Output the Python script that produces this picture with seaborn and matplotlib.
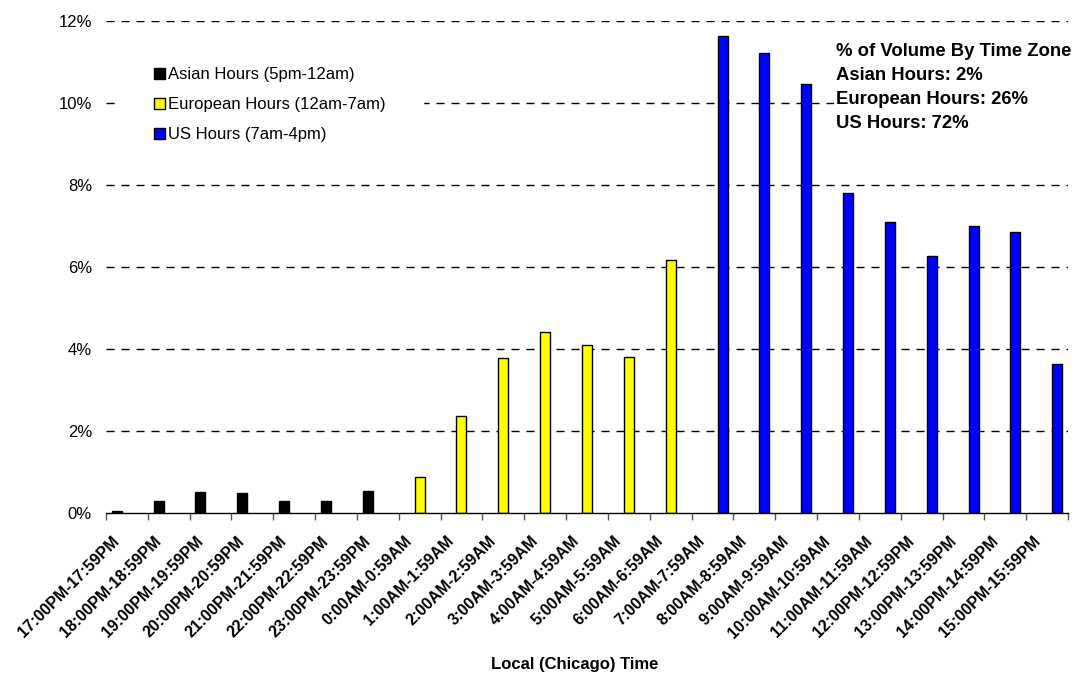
import matplotlib
matplotlib.use("Agg")
import matplotlib.pyplot as plt
import matplotlib.transforms as mtransforms
import seaborn as sns
import pandas as pd
import numpy as np

# Hourly share of trading volume, by local (Chicago) time
asian_hours = ["17:00PM-17:59PM", "18:00PM-18:59PM", "19:00PM-19:59PM", "20:00PM-20:59PM",
               "21:00PM-21:59PM", "22:00PM-22:59PM", "23:00PM-23:59PM"]
asian_pct = [0.06, 0.29, 0.52, 0.50, 0.29, 0.29, 0.54]

european_hours = ["0:00AM-0:59AM", "1:00AM-1:59AM", "2:00AM-2:59AM", "3:00AM-3:59AM",
                  "4:00AM-4:59AM", "5:00AM-5:59AM", "6:00AM-6:59AM"]
european_pct = [0.88, 2.38, 3.78, 4.41, 4.10, 3.80, 6.17]

us_hours = ["7:00AM-7:59AM", "8:00AM-8:59AM", "9:00AM-9:59AM", "10:00AM-10:59AM",
            "11:00AM-11:59AM", "12:00PM-12:59PM", "13:00PM-13:59PM", "14:00PM-14:59PM",
            "15:00PM-15:59PM"]
us_pct = [11.63, 11.21, 10.46, 7.80, 7.10, 6.26, 7.00, 6.85, 3.63]

zones = ["Asian Hours (5pm-12am)", "European Hours (12am-7am)", "US Hours (7am-4pm)"]
zone_colors = ["#000000", "#FFFF00", "#0000FF"]
summary_lines = ["% of Volume By Time Zone", "Asian Hours: 2%", "European Hours: 26%", "US Hours: 72%"]
y_ticks = [0, 2, 4, 6, 8, 10, 12]

hours = asian_hours + european_hours + us_hours
df = pd.DataFrame({
    "hour": hours,
    "zone": [zones[0]] * len(asian_hours) + [zones[1]] * len(european_hours) + [zones[2]] * len(us_hours),
    "pct": asian_pct + european_pct + us_pct,
})

sns.set_style("white")
plt.rcParams["font.family"] = ["Liberation Sans", "DejaVu Sans"]
plt.rcParams["text.color"] = "black"
plt.rcParams["axes.labelcolor"] = "black"
plt.rcParams["xtick.color"] = "black"
plt.rcParams["ytick.color"] = "black"

fig = plt.figure(figsize=(10.8, 6.77), dpi=100)
ax = fig.add_axes([0.098, 0.242, 0.891, 0.727])

sns.barplot(data=df, x="hour", y="pct", hue="zone", order=hours, hue_order=zones,
            palette=zone_colors, saturation=1, dodge=True, width=0.72, edgecolor="black",
            linewidth=1.0, ax=ax, legend=True, zorder=3)

ax.set_xlim(-0.5, len(hours) - 0.5)
ax.set_ylim(0, 12)
ax.set_yticks(y_ticks)
ax.set_yticklabels([f"{v}%" for v in y_ticks], fontsize=12)
ax.tick_params(axis="y", length=0, pad=10)

# dashed horizontal gridlines
for v in y_ticks[1:]:
    ax.axhline(v, color="black", linestyle=(0, (5.8, 5.0)), linewidth=1.0, zorder=1)

for s in ["left", "right", "top"]:
    ax.spines[s].set_visible(False)
ax.spines["bottom"].set_color("black")
ax.spines["bottom"].set_linewidth(1.0)
ax.spines["bottom"].set_zorder(4)

# category labels, with tick marks on category boundaries
ax.set_xticks(np.arange(len(hours)))
ax.set_xticklabels(hours, fontsize=11.5, fontweight="bold")
ax.tick_params(axis="x", which="major", length=0, pad=14.5)
shift = mtransforms.ScaledTranslation(-15 / 100, 0, fig.dpi_scale_trans)
for lab in ax.get_xticklabels():
    lab.set_rotation(45)
    lab.set_rotation_mode("anchor")
    lab.set_ha("right")
    lab.set_va("top")
    lab.set_transform(lab.get_transform() + shift)
ax.set_xticks(np.arange(-0.5, len(hours)), minor=True)
ax.tick_params(axis="x", which="minor", length=5, width=1, color="#555555", direction="out",
               bottom=True)

ax.set_xlabel("")
ax.set_ylabel("")
fig.text(575 / 1080, 1 - 665 / 677, "Local (Chicago) Time", fontsize=12, fontweight="bold",
         ha="center", va="center")

# legend on a wide white panel that hides the gridline behind it
handles, labels = ax.get_legend_handles_labels()
leg = ax.legend(handles, labels, loc="upper left", bbox_to_anchor=(0.1006, 0.9668),
                bbox_transform=fig.transFigure, frameon=True, fancybox=False,
                fontsize=12, handlelength=0.68, handleheight=0.68, handletextpad=0.2,
                labelspacing=0.9, borderpad=2.2, edgecolor="white", facecolor="white",
                framealpha=1.0)
leg.set_zorder(5)

fig.text(0.774, 0.937, "\n".join(summary_lines), fontsize=13.3, fontweight="bold",
         va="top", ha="left", linespacing=1.55,
         bbox=dict(facecolor="white", edgecolor="none", pad=1), zorder=6)

fig.savefig("out.png", dpi=100)
